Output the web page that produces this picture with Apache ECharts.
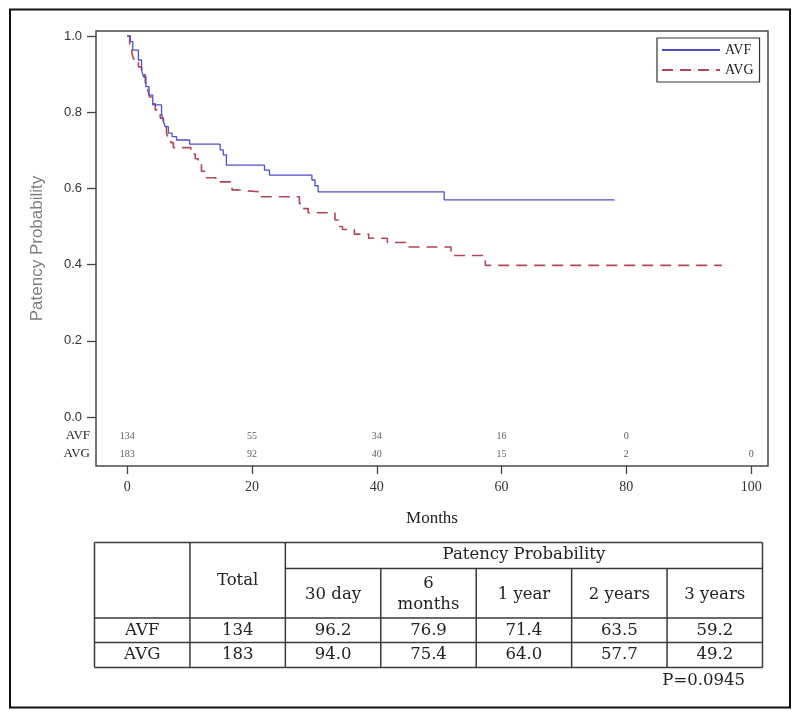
<!DOCTYPE html>
<html>
<head>
<meta charset="utf-8">
<script src="https://cdn.jsdelivr.net/npm/echarts@6/dist/echarts.min.js"></script>
<style>
html,body{margin:0;padding:0;background:#fff;}
#chart{width:800px;height:718px;}
</style>
</head>
<body>
<div id="chart"></div>
<script>
// ---------------- DATA ----------------
const groups = ['AVF', 'AVG'];
// Kaplan-Meier steps: [month, patency probability]
const avfCurve = [
  [0, 1.0], [0.5, 0.985], [0.9, 0.963], [1.8, 0.937], [2.3, 0.911], [2.6, 0.893],
  [3.0, 0.867], [3.5, 0.845], [4.1, 0.819], [5.5, 0.797], [5.8, 0.776], [6.1, 0.762],
  [6.6, 0.745], [7.2, 0.736], [7.9, 0.727], [10.0, 0.716], [14.9, 0.701], [15.4, 0.688],
  [15.9, 0.661], [22.0, 0.648], [22.8, 0.635], [29.6, 0.622], [30.1, 0.607], [30.6, 0.591],
  [50.8, 0.570], [78.1, 0.570]
];
const avgCurve = [
  [0, 1.0], [0.4, 0.978], [0.75, 0.955], [1.0, 0.940], [1.8, 0.919], [2.3, 0.898],
  [2.9, 0.876], [3.3, 0.858], [3.6, 0.840], [4.1, 0.822], [4.5, 0.806], [5.3, 0.784],
  [5.8, 0.762], [6.3, 0.745], [6.6, 0.731], [7.0, 0.720], [7.4, 0.707], [10.2, 0.690],
  [10.9, 0.678], [11.4, 0.665], [11.9, 0.645], [12.6, 0.628], [14.2, 0.617], [16.8, 0.596],
  [17.6, 0.591], [21.2, 0.578], [27.6, 0.560], [28.3, 0.547], [29.0, 0.536], [33.3, 0.517],
  [34.0, 0.500], [34.5, 0.492], [36.4, 0.480], [38.7, 0.469], [41.7, 0.458], [44.6, 0.446],
  [51.9, 0.424], [57.4, 0.398], [95.3, 0.398]
];
// numbers at risk
const riskTimes = [0, 20, 40, 60, 80, 100];
const avfRisk = [134, 55, 34, 16, 0];
const avgRisk = [183, 92, 40, 15, 2, 0];
// axis ticks
const xTicks = [0, 20, 40, 60, 80, 100];
const yTicks = [0, 0.2, 0.4, 0.6, 0.8, 1.0];
// summary table
const tableHeader = 'Patency Probability';
const totalHeader = 'Total';
const timeColumns = ['30 day', '6\nmonths', '1 year', '2 years', '3 years'];
const totals = [134, 183];
const avfProb = ['96.2', '76.9', '71.4', '63.5', '59.2'];
const avgProb = ['94.0', '75.4', '64.0', '57.7', '49.2'];
const pValueText = 'P=0.0945';

// ---------------- LAYOUT ----------------
const xMin = -5, xMax = 102.7;
const yMin = -0.1286, yMax = 1.0131;
const riskRowY = [-0.05, -0.097];
const blue = '#4f4fc9';
const red = '#b24658';

const tLeft = 94.5, tRight = 762.5;
const colW = (tRight - tLeft) / 7;
const rowsY = [542.5, 568.5, 618, 642.5, 667.5];
const tFont = '16.5px "DejaVu Serif", serif';
const lineCol = '#3a3a3a';

function colX(i) { return tLeft + i * colW; }
function hLine(x1, x2, y) {
  return { type: 'line', silent: true, shape: { x1: x1, y1: y, x2: x2, y2: y },
           style: { stroke: lineCol, lineWidth: 1.5 } };
}
function vLine(x, y1, y2) {
  return { type: 'line', silent: true, shape: { x1: x, y1: y1, x2: x, y2: y2 },
           style: { stroke: lineCol, lineWidth: 1.5 } };
}
function txt(t, x, y, extra) {
  const s = { text: t, x: x, y: y, fill: '#222', font: tFont,
              textAlign: 'center', align: 'center',
              textVerticalAlign: 'middle', verticalAlign: 'middle', lineHeight: 21 };
  if (extra) Object.assign(s, extra);
  return { type: 'text', silent: true, style: s };
}

const graphics = [];
// outer frame
graphics.push({ type: 'rect', silent: true, shape: { x: 10, y: 9.5, width: 780, height: 698 },
                style: { fill: 'none', stroke: '#111', lineWidth: 2 } });
// table grid
graphics.push(hLine(tLeft, tRight, rowsY[0]));
graphics.push(hLine(colX(2), tRight, rowsY[1]));
graphics.push(hLine(tLeft, tRight, rowsY[2]));
graphics.push(hLine(tLeft, tRight, rowsY[3]));
graphics.push(hLine(tLeft, tRight, rowsY[4]));
graphics.push(vLine(colX(0), rowsY[0], rowsY[4]));
graphics.push(vLine(colX(1), rowsY[0], rowsY[4]));
graphics.push(vLine(colX(2), rowsY[0], rowsY[4]));
for (let i = 3; i < 7; i++) graphics.push(vLine(colX(i), rowsY[1], rowsY[4]));
graphics.push(vLine(colX(7), rowsY[0], rowsY[4]));
// table texts
graphics.push(txt(tableHeader, (colX(2) + colX(7)) / 2, (rowsY[0] + rowsY[1]) / 2 - 1));
graphics.push(txt(totalHeader, (colX(1) + colX(2)) / 2, (rowsY[0] + rowsY[2]) / 2));
timeColumns.forEach(function (c, i) {
  graphics.push(txt(c, (colX(2 + i) + colX(3 + i)) / 2, (rowsY[1] + rowsY[2]) / 2 + 1));
});
const probRows = [avfProb, avgProb];
groups.forEach(function (g, r) {
  const cy = (rowsY[2 + r] + rowsY[3 + r]) / 2;
  graphics.push(txt(g, (colX(0) + colX(1)) / 2, cy));
  graphics.push(txt(String(totals[r]), (colX(1) + colX(2)) / 2, cy));
  probRows[r].forEach(function (v, i) {
    graphics.push(txt(v, (colX(2 + i) + colX(3 + i)) / 2, cy));
  });
});
graphics.push(txt(pValueText, 745, 681, { textAlign: 'right', align: 'right' }));

function riskData(arr, row) {
  return arr.map(function (v, i) { return [riskTimes[i], riskRowY[row], v]; });
}
function riskSeries(name, arr, row) {
  return {
    name: name, type: 'scatter', data: riskData(arr, row), symbolSize: 0.01,
    silent: true, z: 5,
    label: { show: true, position: 'inside', color: '#333',
             fontFamily: '"Liberation Serif", serif', fontSize: 10,
             formatter: function (p) { return String(p.value[2]); } }
  };
}

const option = {
  animation: false,
  backgroundColor: '#fff',
  grid: { left: 96, right: 32, top: 31, bottom: 252, show: true,
          borderColor: '#4a4a4a', borderWidth: 1.5, backgroundColor: 'transparent' },
  legend: {
    data: groups, orient: 'vertical', left: 657, top: 38,
    itemWidth: 58, itemHeight: 12, itemGap: 6,
    padding: [5, 6, 5, 4], borderColor: '#333', borderWidth: 1.2,
    itemStyle: { color: 'transparent', borderWidth: 0, opacity: 0 },
    textStyle: { fontFamily: '"Liberation Serif", serif', fontSize: 14, color: '#222' },
    selectedMode: false
  },
  xAxis: {
    type: 'value', min: xMin, max: xMax,
    name: 'Months', nameLocation: 'middle', nameGap: 44,
    nameTextStyle: { fontFamily: '"Liberation Serif", serif', fontSize: 17, color: '#222' },
    axisLine: { show: false, onZero: false },
    splitLine: { show: false },
    axisTick: { show: true, customValues: xTicks, length: 8, inside: false,
                lineStyle: { color: '#444', width: 1.3 } },
    axisLabel: { customValues: xTicks, margin: 14, color: '#333',
                 fontFamily: '"Liberation Serif", serif', fontSize: 14 }
  },
  yAxis: {
    type: 'value', min: yMin, max: yMax,
    name: 'Patency Probability', nameLocation: 'middle', nameGap: 50, nameRotate: 90,
    nameTextStyle: { fontFamily: '"Liberation Sans", sans-serif', fontSize: 17, color: '#7d7d7d' },
    axisLine: { show: false, onZero: false },
    splitLine: { show: false },
    axisTick: { show: true, customValues: yTicks, length: 9,
                lineStyle: { color: '#444', width: 1.3 } },
    axisLabel: {
      customValues: yTicks.concat(riskRowY), margin: 6, color: '#333',
      formatter: function (v) {
        for (let i = 0; i < riskRowY.length; i++) {
          if (Math.abs(v - riskRowY[i]) < 1e-6) return '{g|' + groups[i] + '}';
        }
        return '{n|' + v.toFixed(1) + '}';
      },
      rich: {
        n: { fontFamily: '"Liberation Sans Narrow", "Liberation Sans", sans-serif', fontSize: 13,
             color: '#333', padding: [0, 8, 0, 0] },
        g: { fontFamily: '"Liberation Serif", serif', fontSize: 13, color: '#222' }
      }
    }
  },
  series: [
    { name: groups[0], type: 'line', step: 'end', data: avfCurve, symbol: 'none',
      lineStyle: { color: blue, width: 1.3 }, itemStyle: { color: blue }, z: 3 },
    { name: groups[1], type: 'line', step: 'end', data: avgCurve, symbol: 'none',
      lineStyle: { color: red, width: 1.6, type: [11, 7] }, itemStyle: { color: red }, z: 2 },
    riskSeries('AVF at risk', avfRisk, 0),
    riskSeries('AVG at risk', avgRisk, 1)
  ],
  graphic: graphics
};

const chart = echarts.init(document.getElementById('chart'), null, { renderer: 'canvas' });
chart.setOption(option);
</script>
</body>
</html>
